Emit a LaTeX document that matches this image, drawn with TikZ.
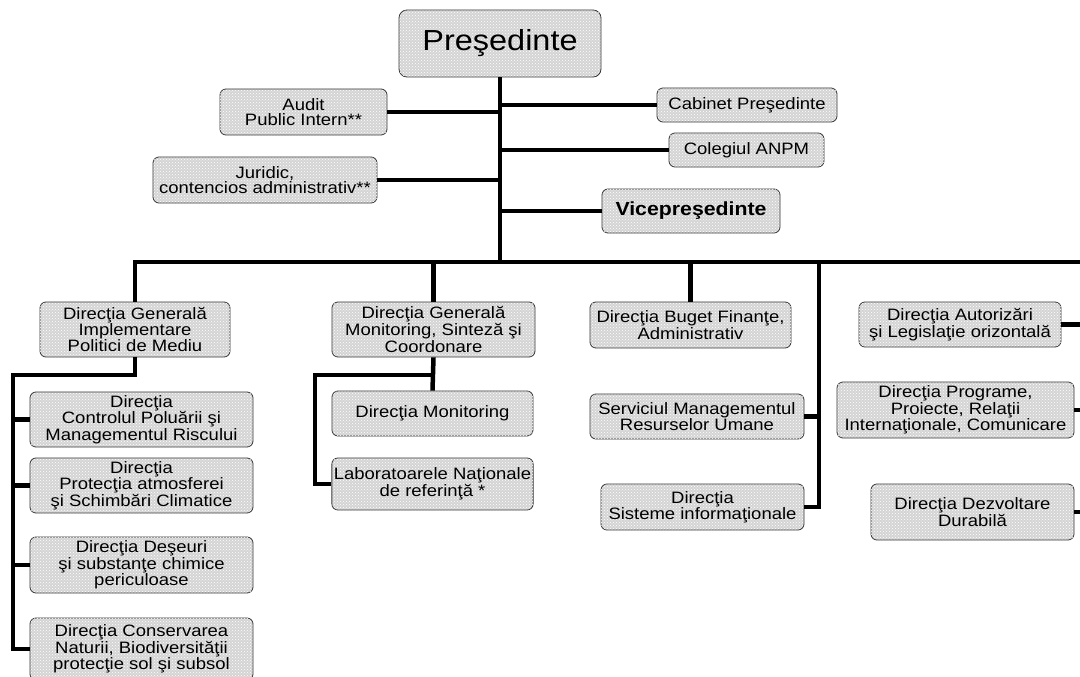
\documentclass[tikz,border=0pt]{standalone}
\usepackage{fontspec}
\setmainfont{Liberation Sans}[FakeStretch=1.12]
\usetikzlibrary{patterns}

\definecolor{boxgray}{RGB}{212,212,212}
\tikzset{
  unit/.style={draw=black!80, line width=0.8pt, rounded corners=6pt, fill=boxgray,
    postaction={pattern=crosshatch dots, pattern color=white},
    align=center, inner xsep=2pt, inner ysep=0pt,
    font=\fontsize{16.5}{14.5}\selectfont},
  link/.style={line width=4.5pt}
}

\begin{document}
\begin{tikzpicture}[x=1pt,y=-1pt]
    \useasboundingbox (0,0) rectangle (1080,677);

    % Define nodes
    \node[unit, minimum width=202pt, minimum height=67pt, rounded corners=8pt,
      font=\fontsize{29}{32}\selectfont] (pres) at (500,43.5) {Preşedinte};

    \node[unit, minimum width=167pt, minimum height=46pt] (audit) at (303.5,112) {Audit\\Public Intern**};
    \node[unit, minimum width=224pt, minimum height=46pt] (jur) at (265,180) {Juridic,\\contencios administrativ**};
    \node[unit, minimum width=180pt, minimum height=34pt] (cab) at (747,105) {Cabinet Preşedinte};
    \node[unit, minimum width=155pt, minimum height=34pt] (col) at (746.5,150) {Colegiul ANPM};
    \node[unit, minimum width=178pt, minimum height=44pt,
      font=\fontsize{19}{22}\selectfont\bfseries] (vice) at (691,211) {Vicepreşedinte};

    \node[unit, minimum width=190pt, minimum height=55pt] (dgi) at (135,329.5) {Direcţia Generală\\Implementare\\Politici de Mediu};
    \node[unit, minimum width=223pt, minimum height=55pt] (c1) at (141.5,419.5) {Direcţia\\Controlul Poluării şi\\Managementul Riscului};
    \node[unit, minimum width=223pt, minimum height=55pt] (c2) at (141.5,485.5) {Direcţia\\Protecţia atmosferei\\şi Schimbări Climatice};
    \node[unit, minimum width=223pt, minimum height=56pt] (c3) at (141.5,565) {Direcţia Deşeuri\\şi substanţe chimice\\periculoase};
    \node[unit, minimum width=223pt, minimum height=62pt] (c4) at (141.5,649) {Direcţia Conservarea\\Naturii, Biodiversităţii\\protecţie sol şi subsol};

    \node[unit, minimum width=203pt, minimum height=55pt] (dgm) at (433.5,329.5) {Direcţia Generală\\Monitoring, Sinteză şi\\Coordonare};
    \node[unit, minimum width=201pt, minimum height=45pt] (mon) at (432.5,413.5) {Direcţia Monitoring};
    \node[unit, minimum width=201pt, minimum height=52pt] (lab) at (432.5,484) {Laboratoarele Naţionale\\de referinţă *};

    \node[unit, minimum width=201pt, minimum height=46pt] (buget) at (690.5,325) {Direcţia Buget Finanţe,\\Administrativ};
    \node[unit, minimum width=214pt, minimum height=45pt] (serv) at (697,416.5) {Serviciul Managementul\\Resurselor Umane};
    \node[unit, minimum width=203pt, minimum height=46pt] (sist) at (702.5,507) {Direcţia\\Sisteme informaţionale};

    \node[unit, minimum width=202pt, minimum height=45pt] (aut) at (960,324.5) {Direcţia Autorizări\\şi Legislaţie orizontală};
    \node[unit, minimum width=237pt, minimum height=56pt] (prog) at (955.5,410) {Direcţia Programe,\\Proiecte, Relaţii\\Internaţionale, Comunicare};
    \node[unit, minimum width=203pt, minimum height=56pt] (dezv) at (972.5,512) {Direcţia Dezvoltare\\Durabilă};

    \coordinate (hub) at (500,262);
    \coordinate (mv) at (819,262);
    \coordinate (re) at (1080,262);
    \coordinate (lv) at (13,375);
    \coordinate (mj) at (315,375);

    % Draw edges
    \draw[link] (pres.south) -- (hub);
    \draw[link] (audit.east) -- (audit.east -| hub);
    \draw[link] (jur.east) -- (jur.east -| hub);
    \draw[link] (cab.west) -- (cab.west -| hub);
    \draw[link] (col.west) -- (col.west -| hub);
    \draw[link] (vice.west) -- (vice.west -| hub);

    \draw[link] (dgi.north) |- (mv);
    \draw[link, line width=3.8pt] (mv) -- (re);
    \draw[link] (dgm.north) -- (dgm.north |- hub);
    \draw[link] (buget.north) -- (buget.north |- hub);

    \draw[link] (dgi.south) |- (lv) |- (c4.west);
    \draw[link] (c1.west) -- (c1.west -| lv);
    \draw[link] (c2.west) -- (c2.west -| lv);
    \draw[link] (c3.west) -- (c3.west -| lv);

    \draw[link] (dgm.south) -- (mon.north);
    \draw[link] (dgm.south |- mj) -- (mj) |- (lab.west);

    \draw[link] (mv) |- (sist.east);
    \draw[link] (serv.east) -- (serv.east -| mv);

    \draw[link] (aut.east) -- (aut.east -| re);
    \draw[link] (prog.east) -- (prog.east -| re);
    \draw[link] (dezv.east) -- (dezv.east -| re);
\end{tikzpicture}
\end{document}
